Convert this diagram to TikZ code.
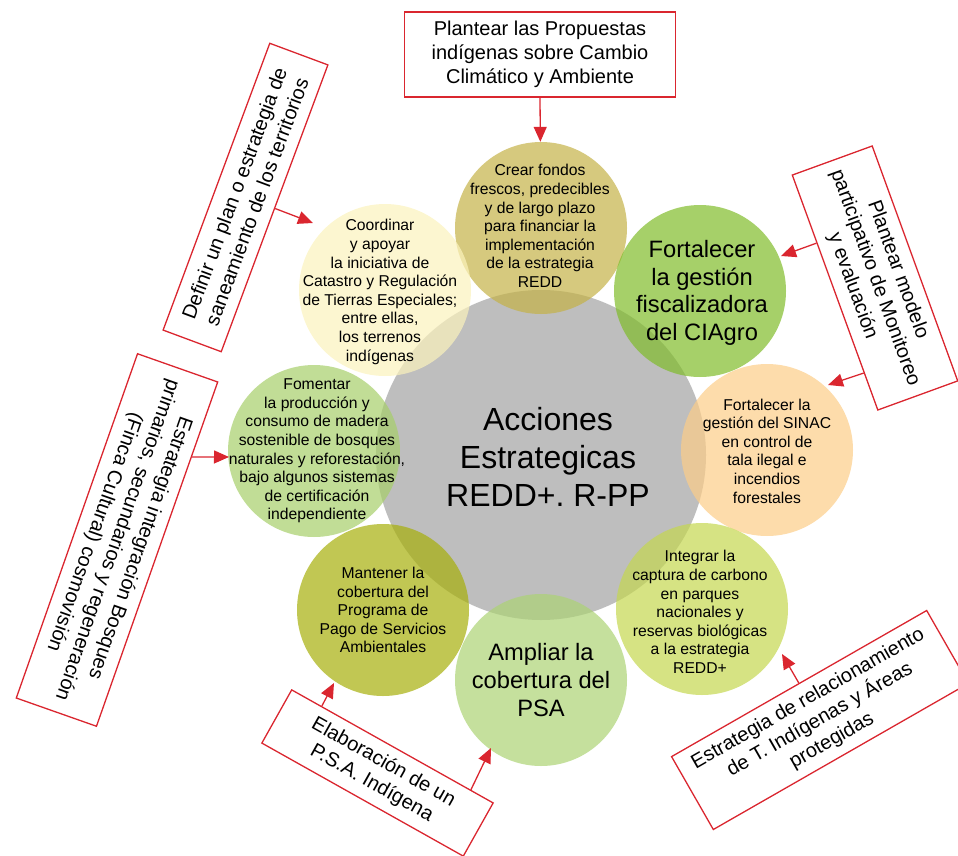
\documentclass[tikz,border=0pt]{standalone}
\usepackage{fontspec}
\setmainfont{Liberation Sans}
\usetikzlibrary{arrows.meta,calc}
\definecolor{boxred}{RGB}{218,38,47}
\definecolor{grayc}{RGB}{190,190,190}
\definecolor{cA}{RGB}{196,178,71}
\definecolor{cB}{RGB}{128,188,42}
\definecolor{cC}{RGB}{252,205,136}
\definecolor{cD}{RGB}{196,215,79}
\definecolor{cE}{RGB}{172,211,116}
\definecolor{cF}{RGB}{166,175,10}
\definecolor{cG}{RGB}{166,206,105}
\definecolor{cH}{RGB}{251,242,188}
\frenchspacing
\begin{document}
\begin{tikzpicture}[x=1pt,y=-1pt,
  satc/.style={circle, minimum size=172pt, inner sep=0pt, fill opacity=0.7},
  sattxt/.style={align=center, inner sep=0pt, font=\fontsize{15.7}{18.6}\selectfont},
  bigtxt/.style={align=center, inner sep=0pt, font=\fontsize{23.7}{27.7}\selectfont},
  rbox/.style={draw=boxred, line width=1.3pt, inner sep=0pt, align=center, font=\fontsize{20}{24}\selectfont},
  arr/.style={draw=boxred, line width=1.3pt, -{Triangle[length=15pt,width=13pt]}}]
\useasboundingbox (0,0) rectangle (958,856);

% central circle
\node[circle, fill=grayc, minimum size=330pt, inner sep=0pt] (ctr) at (541,455) {};

% satellite circles
\node[satc, fill=cA] (c1) at (541,228) {};
\node[satc, fill=cB] (c2) at (700,291) {};
\node[satc, fill=cC] (c3) at (767,450) {};
\node[satc, fill=cD] (c4) at (702,609) {};
\node[satc, fill=cE] (c5) at (541,680) {};
\node[satc, fill=cF] (c6) at (383,610) {};
\node[satc, fill=cG] (c7) at (314,451) {};
\node[satc, fill=cH] (c8) at (385,290) {};

% texts
\node[align=center, inner sep=0pt, font=\fontsize{32}{38}\selectfont] (tc) at (548,457) {Acciones\\Estrategicas\\REDD+. R-PP};
\node[sattxt] (t1) at (540,226) {Crear fondos\\frescos, predecibles\\y de largo plazo\\para financiar la\\implementación\\de la estrategia\\REDD};
\node[bigtxt] (t2) at (702,293) {Fortalecer\\la gestión\\fiscalizadora\\del CIAgro};
\node[sattxt] (t3) at (767,451) {Fortalecer la\\gestión del SINAC\\en control de\\tala ilegal e\\incendios\\forestales};
\node[sattxt] (t4) at (700,612) {Integrar la\\captura de carbono\\en parques\\nacionales y\\reservas biológicas\\a la estrategia\\REDD+};
\node[bigtxt] (t5) at (541,680) {Ampliar la\\cobertura del\\PSA};
\node[sattxt] (t6) at (383,610) {Mantener la\\cobertura del\\Programa de\\Pago de Servicios\\Ambientales};
\node[sattxt] (t7) at (317,451) {Fomentar\\la producción y\\consumo de madera\\sostenible de bosques\\naturales y reforestación,\\bajo algunos sistemas\\de certificación\\independiente};
\node[sattxt] (t8) at (380,292) {Coordinar\\y apoyar\\la iniciativa de\\Catastro y Regulación\\de Tierras Especiales;\\entre ellas,\\los terrenos\\indígenas};

% boxes
\node[rbox, minimum width=271pt, minimum height=85pt] (bA) at (540,54.5) {Plantear las Propuestas\\indígenas sobre Cambio\\Climático y Ambiente};
\node[rbox, rotate=69.6, minimum width=306pt, minimum height=62pt] (bB) at (245.5,197.5) {Definir un plan o estrategia de\\saneamiento de los territorios};
\node[rbox, rotate=-70, minimum width=250pt, minimum height=85pt] (bC) at (875,278) {Plantear modelo\\participativo de Monitoreo\\y evaluación};
\node[rbox, rotate=-109.4, minimum width=365pt, minimum height=85pt] (bD) at (117,540) {Estrategia integración Bosques\\primarios, secundarios y regeneración\\(Finca Cultural) cosmovisión};
\node[rbox, rotate=-29.3, minimum width=231pt, minimum height=61pt] (bE) at (377.5,773) {Elaboración de un\\P.S.A. Indígena};
\node[rbox, rotate=29.8, minimum width=294pt, minimum height=84pt] (bF) at (820,720) {Estrategia de relacionamiento\\de T. Indígenas y Áreas\\protegidas};

% arrow tips
\coordinate (tB) at (313,223);
\coordinate (tC1) at (781,256);
\coordinate (tC2) at (828,385);
\coordinate (tD) at (229,457);
\coordinate (tE1) at (334,683);
\coordinate (tE2) at (491,748);
\coordinate (tF) at (782,654);

% connectors
\draw[arr] (bA.south) -- (c1);
\draw[arr] (bB.south) -- (tB);
\draw[arr] ($(bC.south west)!0.29!(bC.south east)$) -- (tC1);
\draw[arr] ($(bC.south west)!0.84!(bC.south east)$) -- (tC2);
\draw[arr] ($(bD.north west)!0.218!(bD.north east)$) -- (tD);
\draw[arr] ($(bE.north west)!0.15!(bE.north east)$) -- (tE1);
\draw[arr] ($(bE.north west)!0.886!(bE.north east)$) -- (tE2);
\draw[arr] (bF.north) -- (tF);
\end{tikzpicture}
\end{document}
